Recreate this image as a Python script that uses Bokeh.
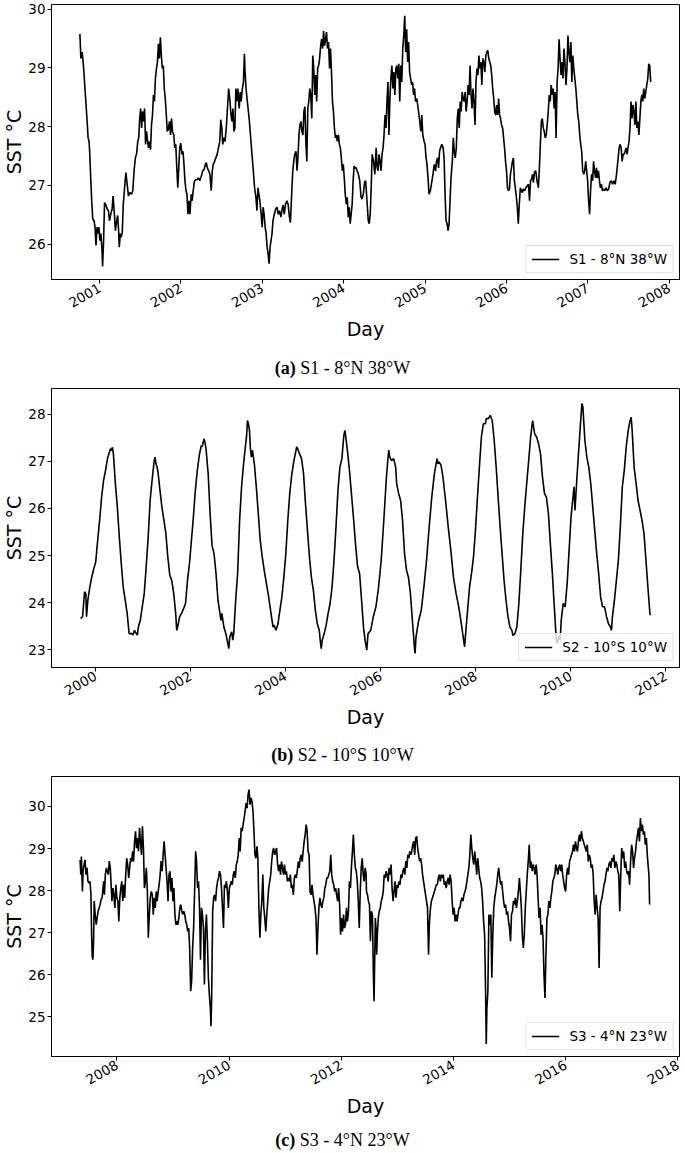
import math
import numpy as np
import pandas as pd
from bokeh.plotting import figure
from bokeh.layouts import column
from bokeh.models import Range1d, FixedTicker, DatetimeTickFormatter, Div
from bokeh.embed import file_html
from bokeh.resources import INLINE

# ---------------- data (decimal year, SST in degC) ----------------
s1_label = "S1 - 8°N 38°W"
s1_year = [
    2000.759, 2000.771, 2000.787, 2000.804, 2000.816, 2000.832, 2000.848, 2000.860, 2000.872, 2000.880,
    2000.892, 2000.904, 2000.917, 2000.933, 2000.945, 2000.957, 2000.969, 2000.981, 2000.993, 2001.005,
    2001.017, 2001.030, 2001.038, 2001.050, 2001.062, 2001.078, 2001.094, 2001.110, 2001.122, 2001.138,
    2001.155, 2001.167, 2001.183, 2001.195, 2001.211, 2001.223, 2001.235, 2001.243, 2001.256, 2001.268,
    2001.280, 2001.292, 2001.308, 2001.324, 2001.340, 2001.356, 2001.373, 2001.393, 2001.409, 2001.425,
    2001.441, 2001.457, 2001.470, 2001.482, 2001.494, 2001.506, 2001.518, 2001.530, 2001.542, 2001.554,
    2001.566, 2001.578, 2001.591, 2001.603, 2001.615, 2001.627, 2001.639, 2001.651, 2001.663, 2001.675,
    2001.687, 2001.700, 2001.712, 2001.724, 2001.736, 2001.748, 2001.760, 2001.772, 2001.784, 2001.796,
    2001.808, 2001.821, 2001.833, 2001.845, 2001.861, 2001.873, 2001.885, 2001.897, 2001.913, 2001.925,
    2001.937, 2001.950, 2001.962, 2001.974, 2001.986, 2001.998, 2002.014, 2002.026, 2002.038, 2002.050,
    2002.063, 2002.075, 2002.087, 2002.099, 2002.111, 2002.127, 2002.139, 2002.151, 2002.168, 2002.184,
    2002.200, 2002.216, 2002.232, 2002.252, 2002.268, 2002.285, 2002.301, 2002.313, 2002.325, 2002.341,
    2002.357, 2002.373, 2002.386, 2002.398, 2002.414, 2002.430, 2002.446, 2002.462, 2002.478, 2002.490,
    2002.503, 2002.515, 2002.527, 2002.543, 2002.559, 2002.575, 2002.587, 2002.604, 2002.616, 2002.628,
    2002.640, 2002.652, 2002.664, 2002.676, 2002.688, 2002.700, 2002.717, 2002.729, 2002.741, 2002.753,
    2002.769, 2002.781, 2002.789, 2002.801, 2002.813, 2002.826, 2002.842, 2002.858, 2002.874, 2002.890,
    2002.906, 2002.922, 2002.935, 2002.947, 2002.959, 2002.971, 2002.987, 2002.999, 2003.011, 2003.023,
    2003.036, 2003.048, 2003.060, 2003.072, 2003.084, 2003.096, 2003.108, 2003.120, 2003.132, 2003.148,
    2003.165, 2003.181, 2003.197, 2003.213, 2003.229, 2003.245, 2003.257, 2003.270, 2003.286, 2003.302,
    2003.318, 2003.334, 2003.346, 2003.358, 2003.375, 2003.387, 2003.399, 2003.415, 2003.427, 2003.439,
    2003.451, 2003.463, 2003.475, 2003.487, 2003.500, 2003.512, 2003.524, 2003.536, 2003.548, 2003.560,
    2003.572, 2003.584, 2003.596, 2003.609, 2003.621, 2003.633, 2003.645, 2003.657, 2003.669, 2003.681,
    2003.693, 2003.705, 2003.718, 2003.730, 2003.742, 2003.754, 2003.766, 2003.778, 2003.790, 2003.802,
    2003.815, 2003.827, 2003.839, 2003.851, 2003.863, 2003.875, 2003.887, 2003.899, 2003.911, 2003.923,
    2003.936, 2003.948, 2003.960, 2003.972, 2003.984, 2003.996, 2004.008, 2004.020, 2004.033, 2004.045,
    2004.057, 2004.069, 2004.081, 2004.093, 2004.105, 2004.117, 2004.129, 2004.141, 2004.154, 2004.166,
    2004.182, 2004.198, 2004.214, 2004.226, 2004.242, 2004.258, 2004.271, 2004.287, 2004.303, 2004.315,
    2004.327, 2004.339, 2004.351, 2004.368, 2004.384, 2004.400, 2004.412, 2004.424, 2004.436, 2004.448,
    2004.460, 2004.472, 2004.485, 2004.497, 2004.509, 2004.521, 2004.533, 2004.545, 2004.557, 2004.569,
    2004.581, 2004.593, 2004.606, 2004.618, 2004.630, 2004.642, 2004.654, 2004.666, 2004.678, 2004.690,
    2004.702, 2004.715, 2004.727, 2004.739, 2004.751, 2004.763, 2004.775, 2004.787, 2004.799, 2004.811,
    2004.824, 2004.836, 2004.848, 2004.860, 2004.872, 2004.884, 2004.900, 2004.916, 2004.932, 2004.949,
    2004.961, 2004.973, 2004.989, 2005.001, 2005.013, 2005.025, 2005.037, 2005.050, 2005.066, 2005.082,
    2005.098, 2005.114, 2005.130, 2005.142, 2005.154, 2005.167, 2005.179, 2005.191, 2005.207, 2005.223,
    2005.235, 2005.247, 2005.259, 2005.272, 2005.284, 2005.296, 2005.308, 2005.320, 2005.336, 2005.348,
    2005.360, 2005.372, 2005.385, 2005.397, 2005.409, 2005.421, 2005.433, 2005.445, 2005.457, 2005.469,
    2005.481, 2005.493, 2005.506, 2005.518, 2005.530, 2005.542, 2005.554, 2005.566, 2005.578, 2005.590,
    2005.602, 2005.615, 2005.627, 2005.639, 2005.651, 2005.663, 2005.675, 2005.687, 2005.699, 2005.711,
    2005.724, 2005.736, 2005.748, 2005.760, 2005.772, 2005.784, 2005.796, 2005.808, 2005.820, 2005.832,
    2005.845, 2005.857, 2005.869, 2005.881, 2005.893, 2005.905, 2005.917, 2005.929, 2005.941, 2005.954,
    2005.966, 2005.978, 2005.990, 2006.002, 2006.014, 2006.026, 2006.038, 2006.050, 2006.063, 2006.075,
    2006.087, 2006.099, 2006.111, 2006.123, 2006.135, 2006.147, 2006.159, 2006.172, 2006.184, 2006.196,
    2006.208, 2006.224, 2006.240, 2006.256, 2006.272, 2006.285, 2006.297, 2006.309, 2006.321, 2006.333,
    2006.345, 2006.361, 2006.377, 2006.394, 2006.406, 2006.418, 2006.430, 2006.442, 2006.454, 2006.466,
    2006.478, 2006.490, 2006.502, 2006.515, 2006.527, 2006.539, 2006.551, 2006.563, 2006.575, 2006.587,
    2006.599, 2006.611, 2006.624, 2006.636, 2006.648, 2006.660, 2006.672, 2006.684, 2006.696, 2006.708,
    2006.720, 2006.733, 2006.745, 2006.757, 2006.769, 2006.781, 2006.793, 2006.805, 2006.817, 2006.829,
    2006.842, 2006.854, 2006.866, 2006.878, 2006.890, 2006.902, 2006.914, 2006.926, 2006.938, 2006.951,
    2006.963, 2006.975, 2006.987, 2006.999, 2007.011, 2007.023, 2007.035, 2007.047, 2007.060, 2007.072,
    2007.084, 2007.096, 2007.108, 2007.120, 2007.132, 2007.144, 2007.156, 2007.169, 2007.181, 2007.193,
    2007.209, 2007.225, 2007.241, 2007.257, 2007.273, 2007.290, 2007.306, 2007.322, 2007.338, 2007.354,
    2007.370, 2007.386, 2007.399, 2007.411, 2007.423, 2007.435, 2007.447, 2007.459, 2007.471, 2007.483,
    2007.495, 2007.508, 2007.520, 2007.532, 2007.544, 2007.556, 2007.568, 2007.580, 2007.592, 2007.604,
    2007.617, 2007.629, 2007.641, 2007.653, 2007.665, 2007.677, 2007.689, 2007.701, 2007.713, 2007.726,
    2007.738, 2007.750, 2007.762, 2007.774,
]
s1_sst = [
    29.58, 29.16, 29.27, 29.02, 28.76, 28.43, 28.09, 27.81, 27.75, 27.55,
    27.13, 26.74, 26.43, 26.40, 26.29, 25.98, 26.29, 26.18, 26.29, 26.06,
    26.18, 25.92, 25.62, 26.06, 26.71, 26.67, 26.60, 26.57, 26.40, 26.51,
    26.60, 26.82, 26.51, 26.23, 26.40, 26.49, 26.23, 25.95, 26.18, 26.12,
    26.21, 26.68, 26.96, 27.22, 27.02, 26.82, 26.88, 26.85, 26.91, 27.25,
    27.47, 27.55, 27.75, 27.81, 28.14, 28.31, 27.98, 28.26, 28.09, 28.31,
    27.70, 27.92, 27.75, 27.64, 27.75, 27.61, 28.03, 28.20, 28.54, 28.43,
    28.82, 28.99, 29.10, 29.41, 29.16, 29.52, 29.21, 28.99, 29.04, 28.65,
    28.48, 28.20, 27.92, 27.95, 28.09, 27.86, 28.14, 27.92, 27.86, 27.64,
    27.70, 27.30, 26.96, 27.30, 27.64, 27.72, 27.53, 27.58, 27.36, 27.08,
    26.91, 26.85, 26.51, 26.74, 26.51, 26.85, 26.74, 26.91, 27.08, 27.10,
    27.10, 27.13, 27.08, 27.16, 27.25, 27.27, 27.36, 27.39, 27.30, 27.25,
    27.19, 26.91, 27.25, 27.36, 27.41, 27.47, 27.53, 27.64, 27.75, 28.12,
    27.98, 27.70, 27.81, 27.75, 28.00, 28.37, 28.65, 28.43, 28.20, 28.09,
    28.31, 27.92, 27.98, 28.65, 28.43, 28.65, 28.31, 28.59, 28.43, 28.62,
    28.76, 29.24, 28.93, 28.65, 28.48, 28.31, 28.09, 27.81, 27.53, 27.25,
    26.96, 26.80, 26.57, 26.96, 26.85, 26.74, 26.51, 26.29, 26.63, 26.51,
    26.29, 26.18, 25.95, 25.84, 25.67, 25.95, 26.06, 26.18, 26.40, 26.51,
    26.60, 26.63, 26.51, 26.57, 26.46, 26.60, 26.67, 26.51, 26.68, 26.74,
    26.68, 26.46, 26.37, 26.74, 27.25, 27.41, 27.53, 27.58, 27.25, 27.47,
    27.86, 28.03, 28.09, 27.92, 27.86, 28.26, 28.34, 27.75, 27.41, 28.31,
    28.43, 28.65, 28.54, 28.14, 29.21, 28.99, 28.54, 28.88, 28.43, 28.99,
    29.04, 29.16, 29.38, 29.49, 29.33, 29.63, 29.38, 29.49, 29.61, 29.33,
    29.44, 28.99, 29.33, 28.93, 28.43, 28.26, 27.98, 27.81, 27.86, 27.75,
    27.86, 27.70, 27.64, 27.47, 27.25, 27.36, 27.13, 26.85, 26.68, 26.80,
    26.46, 26.63, 26.35, 26.51, 26.68, 27.08, 27.33, 27.30, 27.30, 27.25,
    27.19, 27.08, 26.80, 26.77, 26.85, 27.06, 27.08, 26.74, 26.40, 26.35,
    26.51, 26.96, 27.53, 27.41, 27.19, 27.64, 27.30, 27.25, 27.53, 27.41,
    27.25, 27.53, 27.64, 27.86, 28.20, 27.98, 28.43, 28.76, 27.86, 28.48,
    28.82, 29.04, 28.65, 28.93, 28.54, 28.99, 29.04, 28.82, 29.07, 28.43,
    29.04, 28.76, 29.33, 29.55, 29.89, 29.27, 29.66, 29.10, 29.44, 28.93,
    28.82, 28.71, 28.76, 28.54, 28.65, 28.43, 28.48, 28.31, 28.14, 27.92,
    28.20, 27.86, 27.75, 27.70, 27.47, 27.36, 27.13, 26.85, 26.91, 27.05,
    27.19, 27.36, 27.25, 27.41, 27.47, 27.30, 27.58, 27.64, 27.70, 27.64,
    27.47, 26.85, 26.40, 26.35, 26.23, 26.35, 26.74, 27.13, 27.41, 27.81,
    27.58, 27.47, 27.64, 28.14, 28.31, 27.98, 28.43, 28.26, 28.59, 28.48,
    28.43, 28.59, 28.26, 28.43, 28.71, 28.54, 29.04, 28.54, 28.31, 28.65,
    28.43, 28.03, 28.76, 28.99, 28.88, 29.21, 28.99, 29.10, 28.71, 29.16,
    29.10, 28.93, 29.21, 29.27, 29.30, 29.16, 29.10, 29.04, 28.88, 28.65,
    28.48, 28.26, 28.20, 28.37, 28.20, 28.48, 28.20, 28.14, 28.03, 27.98,
    27.81, 27.64, 27.41, 27.25, 26.96, 26.91, 26.94, 27.19, 27.30, 27.41,
    27.47, 27.08, 26.96, 26.80, 26.63, 26.35, 26.68, 26.96, 26.91, 26.88,
    26.94, 26.91, 26.96, 26.99, 27.02, 26.74, 27.08, 27.10, 27.19, 27.05,
    27.22, 27.25, 27.08, 26.96, 27.30, 27.70, 28.09, 28.14, 27.98, 27.92,
    27.81, 27.86, 28.03, 28.26, 28.54, 28.43, 28.71, 28.54, 28.65, 28.31,
    28.59, 27.81, 28.76, 28.99, 29.49, 29.16, 28.88, 29.10, 28.82, 29.33,
    29.10, 28.71, 28.99, 29.55, 29.27, 29.10, 29.44, 28.76, 29.21, 28.99,
    28.82, 28.65, 28.43, 28.20, 28.09, 27.86, 27.70, 27.58, 27.25, 27.19,
    27.25, 27.41, 27.25, 27.08, 26.74, 26.51, 26.91, 27.19, 27.08, 27.41,
    27.25, 27.13, 27.30, 27.13, 27.25, 27.08, 26.96, 27.02, 26.91, 26.94,
    26.91, 26.96, 26.91, 26.94, 27.05, 27.08, 27.02, 27.08, 27.02, 27.19,
    27.41, 27.64, 27.70, 27.64, 27.41, 27.53, 27.53, 27.58, 27.64, 27.53,
    27.64, 27.75, 27.98, 28.43, 28.14, 28.37, 28.26, 28.03, 28.43, 27.98,
    28.09, 27.86, 28.14, 28.43, 28.54, 28.43, 28.65, 28.48, 28.59, 28.71,
    28.82, 29.07, 29.04, 28.76,
]

s2_label = "S2 - 10°S 10°W"
s2_year = [
    1999.690, 1999.731, 1999.773, 1999.800, 1999.814, 1999.842, 1999.883, 1999.924, 1999.966, 2000.007,
    2000.048, 2000.090, 2000.131, 2000.173, 2000.214, 2000.255, 2000.297, 2000.317, 2000.338, 2000.359,
    2000.379, 2000.421, 2000.462, 2000.504, 2000.545, 2000.586, 2000.628, 2000.669, 2000.710, 2000.766,
    2000.793, 2000.821, 2000.862, 2000.883, 2000.904, 2000.945, 2000.986, 2001.028, 2001.069, 2001.111,
    2001.152, 2001.193, 2001.235, 2001.255, 2001.276, 2001.297, 2001.318, 2001.359, 2001.400, 2001.442,
    2001.483, 2001.524, 2001.566, 2001.607, 2001.649, 2001.690, 2001.711, 2001.731, 2001.773, 2001.814,
    2001.855, 2001.897, 2001.938, 2001.980, 2002.021, 2002.062, 2002.104, 2002.145, 2002.186, 2002.228,
    2002.248, 2002.269, 2002.290, 2002.311, 2002.331, 2002.373, 2002.414, 2002.455, 2002.497, 2002.538,
    2002.580, 2002.621, 2002.642, 2002.662, 2002.704, 2002.745, 2002.787, 2002.807, 2002.828, 2002.869,
    2002.890, 2002.911, 2002.952, 2002.993, 2003.035, 2003.076, 2003.118, 2003.159, 2003.180, 2003.200,
    2003.221, 2003.242, 2003.262, 2003.283, 2003.304, 2003.345, 2003.386, 2003.428, 2003.469, 2003.511,
    2003.552, 2003.593, 2003.635, 2003.676, 2003.717, 2003.738, 2003.759, 2003.800, 2003.842, 2003.883,
    2003.924, 2003.966, 2004.007, 2004.049, 2004.090, 2004.131, 2004.173, 2004.214, 2004.235, 2004.255,
    2004.297, 2004.338, 2004.380, 2004.421, 2004.462, 2004.504, 2004.545, 2004.587, 2004.628, 2004.669,
    2004.711, 2004.731, 2004.752, 2004.773, 2004.814, 2004.856, 2004.897, 2004.938, 2004.980, 2005.021,
    2005.063, 2005.104, 2005.145, 2005.187, 2005.207, 2005.228, 2005.249, 2005.269, 2005.311, 2005.352,
    2005.394, 2005.435, 2005.476, 2005.518, 2005.559, 2005.606, 2005.641, 2005.675, 2005.710, 2005.737,
    2005.793, 2005.848, 2005.903, 2005.959, 2006.014, 2006.069, 2006.124, 2006.152, 2006.173, 2006.194,
    2006.235, 2006.276, 2006.318, 2006.339, 2006.380, 2006.422, 2006.463, 2006.505, 2006.546, 2006.587,
    2006.629, 2006.670, 2006.712, 2006.726, 2006.746, 2006.802, 2006.857, 2006.912, 2006.968, 2007.023,
    2007.078, 2007.133, 2007.189, 2007.209, 2007.230, 2007.272, 2007.313, 2007.368, 2007.424, 2007.479,
    2007.534, 2007.590, 2007.645, 2007.700, 2007.748, 2007.769, 2007.790, 2007.832, 2007.873, 2007.914,
    2007.956, 2007.997, 2008.039, 2008.080, 2008.122, 2008.163, 2008.205, 2008.225, 2008.267, 2008.308,
    2008.350, 2008.391, 2008.433, 2008.474, 2008.516, 2008.557, 2008.599, 2008.640, 2008.681, 2008.723,
    2008.764, 2008.785, 2008.827, 2008.868, 2008.910, 2008.951, 2008.993, 2009.034, 2009.075, 2009.117,
    2009.158, 2009.200, 2009.241, 2009.283, 2009.324, 2009.366, 2009.407, 2009.449, 2009.490, 2009.532,
    2009.573, 2009.615, 2009.656, 2009.698, 2009.718, 2009.760, 2009.780, 2009.801, 2009.843, 2009.884,
    2009.926, 2009.967, 2010.008, 2010.050, 2010.071, 2010.091, 2010.133, 2010.174, 2010.216, 2010.236,
    2010.257, 2010.299, 2010.340, 2010.382, 2010.423, 2010.465, 2010.506, 2010.548, 2010.589, 2010.630,
    2010.672, 2010.713, 2010.755, 2010.796, 2010.838, 2010.858, 2010.879, 2010.921, 2010.962, 2011.004,
    2011.045, 2011.087, 2011.128, 2011.169, 2011.211, 2011.252, 2011.273, 2011.294, 2011.335, 2011.377,
    2011.418, 2011.460, 2011.501, 2011.543, 2011.584, 2011.625, 2011.667, 2011.681,
]
s2_sst = [
    23.66, 23.70, 24.23, 24.19, 23.70, 24.05, 24.33, 24.54, 24.72, 24.86,
    25.32, 25.75, 26.24, 26.60, 26.81, 27.06, 27.20, 27.27, 27.23, 27.30,
    27.16, 26.53, 26.03, 25.39, 24.83, 24.33, 24.05, 23.77, 23.34, 23.34,
    23.31, 23.41, 23.34, 23.31, 23.48, 23.62, 23.91, 24.19, 24.76, 25.39,
    26.17, 26.60, 26.99, 27.09, 26.95, 26.88, 26.77, 26.39, 26.03, 25.75,
    25.47, 24.97, 24.58, 24.47, 24.19, 23.77, 23.41, 23.48, 23.70, 23.77,
    23.87, 23.98, 24.47, 24.83, 25.32, 25.82, 26.39, 26.81, 27.13, 27.34,
    27.31, 27.41, 27.48, 27.38, 27.24, 26.74, 25.89, 25.21, 25.04, 24.62,
    24.05, 23.77, 23.62, 23.77, 23.48, 23.34, 23.13, 23.02, 23.27, 23.38,
    23.20, 23.34, 24.05, 24.62, 25.75, 26.46, 26.95, 27.34, 27.52, 27.87,
    27.80, 27.66, 27.27, 27.09, 27.24, 26.95, 26.46, 25.89, 25.32, 24.97,
    24.69, 24.44, 24.19, 23.91, 23.62, 23.48, 23.52, 23.41, 23.55, 23.84,
    24.12, 24.54, 25.04, 25.75, 26.32, 26.71, 26.99, 27.20, 27.31, 27.27,
    27.16, 27.06, 26.74, 26.10, 25.54, 24.97, 24.54, 24.26, 23.84, 23.55,
    23.41, 23.20, 23.02, 23.20, 23.34, 23.52, 23.77, 23.98, 24.33, 24.90,
    25.61, 26.39, 26.88, 27.06, 27.31, 27.55, 27.66, 27.52, 27.16, 26.74,
    26.24, 25.75, 25.21, 24.76, 24.62, 23.98, 23.48, 23.20, 22.99, 23.34,
    23.41, 23.70, 23.91, 24.33, 24.90, 25.75, 26.67, 27.02, 27.24, 27.09,
    27.02, 27.06, 26.88, 26.53, 26.32, 26.17, 25.75, 25.04, 24.69, 24.54,
    24.19, 23.62, 23.06, 22.92, 23.27, 23.62, 23.84, 24.33, 24.90, 25.61,
    26.24, 26.74, 27.06, 26.95, 26.99, 26.92, 26.67, 26.17, 25.61, 25.11,
    24.54, 24.19, 23.91, 23.55, 23.20, 23.06, 23.34, 23.84, 24.33, 24.62,
    24.97, 25.54, 26.24, 26.88, 27.52, 27.80, 27.80, 27.91, 27.91, 27.98,
    27.87, 27.45, 26.88, 26.24, 25.61, 25.04, 24.47, 24.05, 23.70, 23.48,
    23.41, 23.30, 23.34, 23.48, 23.98, 24.69, 25.47, 26.03, 26.53, 27.02,
    27.52, 27.87, 27.59, 27.52, 27.38, 27.16, 26.67, 26.32, 26.24, 25.89,
    25.25, 24.62, 23.91, 23.20, 23.13, 23.30, 23.20, 23.62, 23.98, 23.91,
    24.40, 25.11, 25.82, 26.24, 26.46, 25.96, 26.67, 27.31, 27.94, 28.23,
    28.16, 27.45, 27.09, 26.88, 26.53, 26.03, 25.54, 25.04, 24.62, 24.12,
    23.91, 23.91, 23.70, 23.55, 23.48, 23.41, 23.70, 24.05, 24.47, 24.90,
    25.61, 26.46, 26.81, 27.31, 27.66, 27.87, 27.94, 27.66, 26.88, 26.53,
    26.17, 25.96, 25.75, 25.47, 24.90, 24.33, 23.77, 23.73,
]

s3_label = "S3 - 4°N 23°W"
s3_year = [
    2007.345, 2007.357, 2007.368, 2007.386, 2007.398, 2007.415, 2007.433, 2007.450, 2007.468, 2007.485,
    2007.503, 2007.521, 2007.538, 2007.550, 2007.561, 2007.573, 2007.585, 2007.596, 2007.614, 2007.632,
    2007.649, 2007.667, 2007.684, 2007.702, 2007.719, 2007.737, 2007.754, 2007.766, 2007.778, 2007.795,
    2007.813, 2007.830, 2007.848, 2007.865, 2007.883, 2007.895, 2007.912, 2007.930, 2007.947, 2007.965,
    2007.983, 2008.000, 2008.018, 2008.035, 2008.053, 2008.070, 2008.088, 2008.105, 2008.123, 2008.140,
    2008.158, 2008.175, 2008.193, 2008.211, 2008.228, 2008.246, 2008.263, 2008.281, 2008.298, 2008.316,
    2008.333, 2008.351, 2008.368, 2008.386, 2008.404, 2008.421, 2008.439, 2008.456, 2008.474, 2008.491,
    2008.509, 2008.526, 2008.544, 2008.561, 2008.579, 2008.596, 2008.614, 2008.632, 2008.649, 2008.667,
    2008.684, 2008.702, 2008.719, 2008.737, 2008.754, 2008.772, 2008.789, 2008.807, 2008.825, 2008.842,
    2008.860, 2008.877, 2008.895, 2008.912, 2008.930, 2008.947, 2008.965, 2008.982, 2009.000, 2009.017,
    2009.035, 2009.053, 2009.070, 2009.088, 2009.105, 2009.123, 2009.140, 2009.158, 2009.175, 2009.193,
    2009.211, 2009.228, 2009.246, 2009.263, 2009.281, 2009.298, 2009.316, 2009.333, 2009.351, 2009.368,
    2009.386, 2009.404, 2009.421, 2009.439, 2009.456, 2009.474, 2009.491, 2009.509, 2009.526, 2009.544,
    2009.561, 2009.579, 2009.597, 2009.614, 2009.632, 2009.649, 2009.667, 2009.678, 2009.690, 2009.708,
    2009.725, 2009.743, 2009.760, 2009.778, 2009.795, 2009.813, 2009.830, 2009.848, 2009.865, 2009.883,
    2009.901, 2009.918, 2009.936, 2009.953, 2009.971, 2009.988, 2010.006, 2010.023, 2010.041, 2010.058,
    2010.076, 2010.093, 2010.111, 2010.129, 2010.146, 2010.164, 2010.181, 2010.199, 2010.216, 2010.234,
    2010.251, 2010.269, 2010.286, 2010.304, 2010.322, 2010.339, 2010.357, 2010.374, 2010.392, 2010.409,
    2010.427, 2010.444, 2010.462, 2010.479, 2010.497, 2010.514, 2010.532, 2010.550, 2010.567, 2010.585,
    2010.602, 2010.620, 2010.637, 2010.655, 2010.672, 2010.690, 2010.707, 2010.725, 2010.743, 2010.760,
    2010.778, 2010.795, 2010.813, 2010.830, 2010.848, 2010.865, 2010.883, 2010.900, 2010.918, 2010.935,
    2010.953, 2010.971, 2010.988, 2011.006, 2011.023, 2011.041, 2011.058, 2011.076, 2011.093, 2011.111,
    2011.128, 2011.146, 2011.164, 2011.181, 2011.199, 2011.216, 2011.234, 2011.251, 2011.269, 2011.286,
    2011.304, 2011.321, 2011.339, 2011.357, 2011.374, 2011.392, 2011.409, 2011.427, 2011.444, 2011.462,
    2011.479, 2011.497, 2011.514, 2011.532, 2011.550, 2011.567, 2011.585, 2011.602, 2011.620, 2011.637,
    2011.655, 2011.672, 2011.690, 2011.707, 2011.725, 2011.743, 2011.760, 2011.778, 2011.795, 2011.813,
    2011.830, 2011.848, 2011.865, 2011.883, 2011.900, 2011.918, 2011.936, 2011.953, 2011.971, 2011.988,
    2012.006, 2012.023, 2012.041, 2012.058, 2012.076, 2012.093, 2012.111, 2012.129, 2012.146, 2012.164,
    2012.181, 2012.199, 2012.216, 2012.234, 2012.251, 2012.269, 2012.286, 2012.304, 2012.321, 2012.339,
    2012.356, 2012.374, 2012.392, 2012.409, 2012.427, 2012.444, 2012.450, 2012.468, 2012.485, 2012.503,
    2012.520, 2012.538, 2012.556, 2012.573, 2012.585, 2012.596, 2012.608, 2012.620, 2012.632, 2012.643,
    2012.661, 2012.678, 2012.696, 2012.713, 2012.731, 2012.749, 2012.766, 2012.784, 2012.801, 2012.819,
    2012.836, 2012.854, 2012.871, 2012.889, 2012.906, 2012.924, 2012.941, 2012.959, 2012.977, 2012.994,
    2013.012, 2013.029, 2013.047, 2013.064, 2013.082, 2013.099, 2013.117, 2013.134, 2013.152, 2013.170,
    2013.187, 2013.205, 2013.222, 2013.240, 2013.257, 2013.275, 2013.292, 2013.310, 2013.327, 2013.345,
    2013.363, 2013.380, 2013.398, 2013.415, 2013.433, 2013.450, 2013.468, 2013.485, 2013.503, 2013.520,
    2013.538, 2013.556, 2013.573, 2013.591, 2013.608, 2013.626, 2013.643, 2013.661, 2013.678, 2013.696,
    2013.713, 2013.731, 2013.749, 2013.766, 2013.784, 2013.801, 2013.819, 2013.836, 2013.854, 2013.871,
    2013.889, 2013.906, 2013.924, 2013.941, 2013.959, 2013.977, 2013.994, 2014.012, 2014.029, 2014.047,
    2014.064, 2014.082, 2014.099, 2014.117, 2014.134, 2014.152, 2014.170, 2014.187, 2014.205, 2014.222,
    2014.240, 2014.257, 2014.275, 2014.292, 2014.310, 2014.327, 2014.345, 2014.363, 2014.380, 2014.398,
    2014.415, 2014.433, 2014.450, 2014.468, 2014.485, 2014.503, 2014.520, 2014.538, 2014.556, 2014.573,
    2014.585, 2014.597, 2014.614, 2014.632, 2014.649, 2014.667, 2014.684, 2014.702, 2014.719, 2014.737,
    2014.754, 2014.772, 2014.790, 2014.807, 2014.825, 2014.842, 2014.860, 2014.877, 2014.895, 2014.912,
    2014.930, 2014.947, 2014.965, 2014.983, 2015.000, 2015.018, 2015.035, 2015.053, 2015.070, 2015.088,
    2015.105, 2015.123, 2015.140, 2015.158, 2015.176, 2015.193, 2015.211, 2015.228, 2015.246, 2015.263,
    2015.281, 2015.298, 2015.316, 2015.333, 2015.351, 2015.369, 2015.386, 2015.404, 2015.421, 2015.439,
    2015.456, 2015.474, 2015.491, 2015.509, 2015.526, 2015.544, 2015.562, 2015.579, 2015.597, 2015.614,
    2015.632, 2015.649, 2015.667, 2015.684, 2015.702, 2015.719, 2015.737, 2015.754, 2015.772, 2015.790,
    2015.807, 2015.825, 2015.842, 2015.860, 2015.877, 2015.895, 2015.912, 2015.930, 2015.947, 2015.965,
    2015.982, 2016.000, 2016.018, 2016.035, 2016.053, 2016.070, 2016.088, 2016.105, 2016.123, 2016.140,
    2016.158, 2016.176, 2016.193, 2016.211, 2016.228, 2016.246, 2016.263, 2016.281, 2016.298, 2016.316,
    2016.333, 2016.351, 2016.369, 2016.386, 2016.404, 2016.421, 2016.439, 2016.456, 2016.474, 2016.491,
    2016.509, 2016.526, 2016.544, 2016.562, 2016.579, 2016.597, 2016.614, 2016.632, 2016.649, 2016.667,
    2016.684, 2016.702, 2016.719, 2016.737, 2016.754, 2016.772, 2016.790, 2016.807, 2016.825, 2016.842,
    2016.860, 2016.877, 2016.895, 2016.912, 2016.930, 2016.947, 2016.965, 2016.983, 2017.000, 2017.018,
    2017.035, 2017.053, 2017.070, 2017.088, 2017.105, 2017.123, 2017.140, 2017.158, 2017.176, 2017.193,
    2017.211, 2017.228, 2017.246, 2017.263, 2017.281, 2017.298, 2017.316, 2017.333, 2017.351, 2017.369,
    2017.386, 2017.404, 2017.421, 2017.439, 2017.456, 2017.474, 2017.485, 2017.497,
]
s3_sst = [
    28.73, 28.38, 28.81, 27.98, 28.46, 28.62, 28.73, 28.38, 28.54, 28.22,
    28.18, 28.22, 27.90, 26.95, 26.44, 26.36, 26.80, 27.75, 27.43, 27.19,
    27.35, 27.51, 27.59, 27.67, 27.79, 27.83, 28.06, 28.22, 27.90, 28.38,
    28.54, 28.46, 28.38, 28.70, 28.54, 28.22, 27.75, 28.06, 27.90, 27.59,
    28.14, 27.83, 27.75, 27.27, 27.83, 28.06, 28.22, 27.75, 28.14, 27.83,
    28.38, 28.77, 28.62, 28.30, 28.54, 28.77, 28.69, 28.93, 28.69, 29.17,
    29.41, 29.01, 29.25, 28.93, 29.49, 29.17, 28.85, 29.53, 29.01, 28.06,
    28.22, 28.54, 27.98, 26.88, 27.43, 27.83, 27.98, 27.90, 27.43, 27.83,
    27.59, 27.98, 27.75, 27.98, 28.14, 28.38, 28.70, 28.46, 28.85, 29.17,
    28.85, 28.54, 28.22, 27.75, 28.38, 28.46, 27.98, 28.30, 27.75, 28.06,
    27.43, 27.19, 27.27, 27.19, 27.35, 27.59, 27.67, 27.51, 27.43, 27.51,
    27.43, 27.27, 27.19, 27.03, 27.11, 26.64, 25.61, 25.85, 26.64, 27.11,
    27.98, 28.93, 28.69, 28.06, 28.22, 27.59, 26.36, 27.59, 27.43, 27.11,
    25.77, 27.03, 27.43, 26.80, 25.93, 25.53, 25.21, 24.78, 25.45, 27.51,
    27.83, 27.90, 27.75, 28.06, 28.22, 28.30, 28.46, 28.38, 28.06, 27.59,
    27.11, 28.14, 28.06, 28.22, 27.98, 27.59, 28.06, 28.14, 28.22, 28.14,
    28.38, 28.46, 28.30, 28.62, 28.69, 28.85, 29.25, 28.93, 29.49, 29.41,
    29.57, 29.72, 29.88, 30.08, 29.96, 30.28, 30.40, 30.04, 30.20, 30.12,
    29.88, 29.41, 28.85, 28.77, 29.05, 28.77, 27.59, 26.88, 27.43, 27.75,
    28.38, 27.59, 27.35, 27.03, 27.43, 27.75, 28.06, 28.22, 28.38, 28.69,
    28.93, 29.01, 28.85, 28.93, 29.01, 28.62, 28.46, 28.62, 28.38, 28.69,
    28.54, 28.38, 28.62, 28.38, 28.46, 28.22, 28.30, 28.22, 28.38, 28.06,
    28.14, 27.90, 28.30, 28.38, 28.30, 28.46, 28.69, 28.54, 28.77, 28.85,
    28.69, 28.93, 29.17, 29.33, 29.57, 29.41, 28.93, 28.85, 27.98, 27.90,
    28.14, 27.90, 27.75, 27.59, 27.35, 26.48, 27.11, 27.59, 27.83, 27.67,
    27.59, 27.75, 27.83, 28.06, 28.14, 28.30, 28.30, 28.38, 28.46, 28.85,
    28.38, 28.22, 28.14, 27.98, 28.06, 27.90, 27.75, 28.06, 27.67, 26.95,
    27.35, 27.03, 27.43, 27.11, 27.19, 27.59, 27.27, 27.51, 28.22, 28.06,
    28.54, 28.93, 29.33, 28.85, 28.54, 28.46, 28.22, 27.75, 27.11, 27.98,
    28.54, 28.77, 28.38, 28.22, 28.54, 28.38, 27.98, 27.90, 27.75, 27.67,
    26.80, 27.51, 27.43, 26.01, 25.37, 26.32, 27.35, 27.11, 26.48, 26.95,
    27.35, 27.51, 27.59, 27.75, 27.83, 27.98, 28.38, 28.30, 28.46, 28.38,
    28.22, 28.54, 28.38, 28.62, 28.06, 27.75, 27.98, 28.22, 27.83, 28.14,
    28.06, 28.22, 28.14, 28.38, 28.30, 28.46, 28.54, 28.38, 28.70, 28.54,
    28.85, 28.77, 28.93, 28.85, 28.93, 29.09, 29.17, 28.85, 29.25, 29.29,
    29.01, 28.85, 28.70, 28.77, 28.62, 28.38, 28.22, 28.06, 27.90, 27.75,
    27.59, 26.48, 27.27, 27.59, 27.75, 27.83, 27.90, 27.98, 28.06, 28.14,
    28.14, 28.30, 28.38, 28.22, 28.38, 28.30, 28.38, 28.14, 28.22, 28.06,
    28.22, 28.30, 28.14, 28.38, 28.22, 27.75, 27.43, 27.59, 27.27, 27.43,
    27.27, 27.43, 27.59, 27.59, 27.75, 27.83, 27.75, 27.90, 27.98, 28.06,
    28.22, 28.38, 28.54, 28.85, 29.33, 29.01, 28.77, 28.62, 28.93, 28.69,
    28.38, 28.77, 28.54, 28.30, 28.22, 28.06, 27.75, 27.27, 26.95, 25.61,
    24.36, 25.21, 25.61, 27.43, 27.19, 27.43, 25.93, 26.95, 27.59, 27.83,
    27.98, 28.14, 28.38, 28.54, 28.30, 28.14, 28.22, 27.98, 27.75, 27.59,
    27.67, 27.43, 27.51, 27.27, 27.11, 26.80, 27.43, 27.51, 27.75, 27.67,
    27.83, 27.59, 27.75, 27.98, 28.30, 27.98, 27.59, 26.95, 26.64, 26.95,
    27.59, 27.98, 28.38, 28.69, 29.09, 28.54, 28.69, 28.46, 28.62, 28.54,
    28.38, 28.62, 28.38, 27.83, 27.35, 27.59, 26.95, 27.19, 26.88, 26.01,
    25.45, 26.48, 27.35, 27.43, 27.75, 27.59, 27.83, 27.98, 28.22, 28.30,
    28.38, 28.62, 28.54, 28.38, 28.54, 28.62, 28.46, 28.62, 28.38, 28.22,
    28.06, 27.98, 28.38, 28.54, 28.38, 28.69, 28.77, 28.85, 28.93, 29.09,
    28.93, 29.17, 29.01, 28.93, 29.17, 29.33, 29.17, 29.41, 29.25, 29.17,
    29.09, 29.01, 28.93, 29.09, 28.69, 28.85, 28.77, 28.54, 28.62, 28.38,
    27.75, 27.43, 27.90, 27.59, 27.35, 26.16, 27.59, 27.75, 27.83, 27.98,
    28.14, 28.22, 28.38, 28.54, 28.46, 28.62, 28.69, 28.54, 28.77, 28.69,
    28.85, 28.54, 28.69, 28.62, 28.46, 28.38, 27.51, 28.38, 29.01, 28.77,
    28.93, 28.54, 28.69, 28.46, 28.38, 28.46, 28.14, 28.69, 29.09, 28.93,
    28.54, 28.77, 28.93, 29.17, 29.33, 29.49, 29.17, 29.72, 29.41, 29.57,
    29.33, 29.41, 29.09, 29.25, 28.85, 28.54, 28.38, 27.67,
]

# tick labels (years) and y ticks
s1_tick_years = [2001, 2002, 2003, 2004, 2005, 2006, 2007, 2008]
s2_tick_years = [2000, 2002, 2004, 2006, 2008, 2010, 2012]
s3_tick_years = [2008, 2010, 2012, 2014, 2016, 2018]
s1_yticks = [26, 27, 28, 29, 30]
s2_yticks = [23, 24, 25, 26, 27, 28]
s3_yticks = [25, 26, 27, 28, 29, 30]

captions = [("(a)", "S1 - 8°N 38°W"), ("(b)", "S2 - 10°S 10°W"), ("(c)", "S3 - 4°N 23°W")]

# -------------------------------------------------------------------------------
EPOCH = pd.Timestamp("1970-01-01")
BASE = pd.Timestamp("2000-01-01")


def to_dt(years):
    y = np.asarray(years, dtype=float)
    return BASE + pd.to_timedelta((y - 2000.0) * 365.2425, unit="D")


def dec_ms(y):
    ts = BASE + pd.Timedelta(days=(y - 2000.0) * 365.2425)
    return (ts - EPOCH) / pd.Timedelta(milliseconds=1)


def jan1_ms(y):
    return (pd.Timestamp(f"{y}-01-01") - EPOCH) / pd.Timedelta(milliseconds=1)


FONT = "DejaVu Sans"
W = 685


def make_panel(years, sst, label, xr, yr, tick_years, yticks, height, top, bottom):
    n = min(len(years), len(sst))
    p = figure(width=W, height=height, x_axis_type="datetime",
               x_range=Range1d(dec_ms(xr[0]), dec_ms(xr[1])),
               y_range=Range1d(yr[0], yr[1]),
               output_backend="svg", toolbar_location=None, title=None,
               min_border_left=46, min_border_right=6,
               min_border_top=top, min_border_bottom=bottom)
    p.line(to_dt(years[:n]), sst[:n], line_color="black", line_width=1.6,
           legend_label=label)

    p.xgrid.visible = False
    p.ygrid.visible = False
    p.outline_line_color = "black"
    p.outline_line_width = 1
    p.background_fill_color = "white"
    p.border_fill_color = "white"

    p.xaxis.ticker = FixedTicker(ticks=[jan1_ms(y) for y in tick_years], minor_ticks=[])
    p.xaxis.formatter = DatetimeTickFormatter(years="%Y", months="%Y", days="%Y",
                                              hours="%Y", minutes="%Y", seconds="%Y",
                                              milliseconds="%Y")
    p.xaxis.major_label_orientation = math.pi / 6
    p.yaxis.ticker = FixedTicker(ticks=yticks, minor_ticks=[])

    for ax in (p.xaxis[0], p.yaxis[0]):
        ax.axis_line_color = "black"
        ax.axis_line_width = 1
        ax.major_tick_line_color = "black"
        ax.major_tick_out = 4
        ax.major_tick_in = 0
        ax.minor_tick_out = 0
        ax.minor_tick_in = 0
        ax.major_label_text_font = FONT
        ax.major_label_text_font_size = "13.5px"
        ax.major_label_text_color = "black"
        ax.axis_label_text_font = FONT
        ax.axis_label_text_font_size = "19px"
        ax.axis_label_text_font_style = "normal"
        ax.axis_label_text_color = "black"

    p.xaxis.axis_label = "Day"
    p.xaxis.major_label_standoff = 3
    p.xaxis.axis_label_standoff = 3
    p.yaxis.axis_label = "SST °C"
    p.yaxis.major_label_standoff = 2
    p.yaxis.axis_label_standoff = 0

    lg = p.legend[0]
    lg.location = "bottom_right"
    lg.margin = 6
    lg.padding = 5
    lg.spacing = 0
    lg.glyph_width = 28
    lg.glyph_height = 14
    lg.label_height = 14
    lg.label_standoff = 10
    lg.label_text_font = FONT
    lg.label_text_font_size = "13.5px"
    lg.label_text_color = "black"
    lg.border_line_color = "#cccccc"
    lg.border_line_width = 1
    lg.background_fill_alpha = 0.8
    return p


def make_caption(tag, text, height):
    return Div(text=f"<b>{tag}</b> {text}", width=W, height=height,
               margin=(0, 0, 0, 0),
               styles={"font-family": "'Liberation Serif', 'Times New Roman', serif",
                       "font-size": "18px", "color": "black", "text-align": "center",
                       "line-height": f"{height}px", "width": f"{W}px"})


p1 = make_panel(s1_year, s1_sst, s1_label, (2000.41, 2008.128), (25.40, 30.08),
                s1_tick_years, s1_yticks, 351, 4, 72)
c1 = make_caption(*captions[0], 34)
p2 = make_panel(s2_year, s2_sst, s2_label, (1999.077, 2012.29), (22.62, 28.55),
                s2_tick_years, s2_yticks, 354, 3, 72)
c2 = make_caption(*captions[1], 32)
p3 = make_panel(s3_year, s3_sst, s3_label, (2006.835, 2018.03), (24.06, 30.71),
                s3_tick_years, s3_yticks, 357, 5, 72)
c3 = make_caption(*captions[2], 25)

layout = column(p1, c1, p2, c2, p3, c3, spacing=0)

with open("out.html", "w") as f:
    f.write(file_html(layout, INLINE, title="SST time series"))
